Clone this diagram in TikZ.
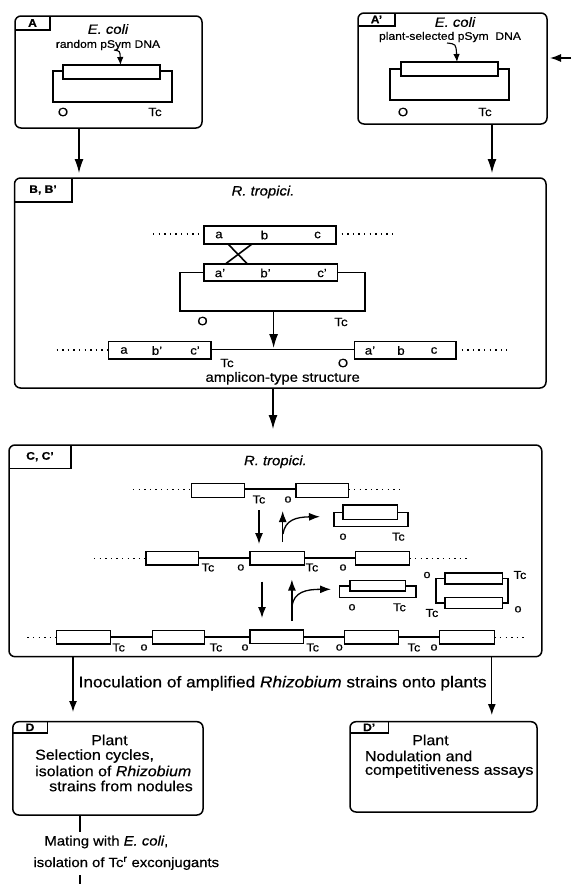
\documentclass[tikz,border=0pt]{standalone}
\usepackage{fontspec}
\setmainfont{Liberation Sans}[FakeStretch=1.1,FakeBold=0.5]
\usetikzlibrary{arrows.meta}
\newcommand{\fs}[1]{\fontsize{#1}{#1}\selectfont}
\tikzset{
  panel/.style={draw, line width=1.5pt, rounded corners=6pt},
  tabline/.style={line width=1.2pt},
  tablab/.style={font=\fs{11}\bfseries, inner sep=0pt},
  insbox/.style={draw, fill=white, line width=1.2pt},
  plasloop/.style={line width=1.4pt},
  chrom/.style={line width=1.9pt},
  dots/.style={line width=1.1pt, dash pattern=on 1.4pt off 4.2pt},
  arr/.style={line width=1.3pt, -{Latex[length=14pt,width=9pt]}},
  sarr/.style={line width=1.3pt, -{Latex[length=11pt,width=8pt]}},
  tarr/.style={line width=1.1pt, -{Latex[length=8pt,width=6.5pt]}},
  lab/.style={font=\fs{12}, inner sep=0pt},
  slab/.style={font=\fs{11.5}, inner sep=0pt},
  small/.style={font=\fs{11}, inner sep=0pt},
  big/.style={font=\fs{13.5}, inner sep=0pt},
  body/.style={font=\fs{14.5}, inner sep=0pt},
}
\begin{document}
\begin{tikzpicture}[x=1pt,y=-1pt]
\useasboundingbox (0,0) rectangle (572,884);

% ---------------- Panel A ----------------
\draw[panel] (15,16) rectangle (202,128);
\draw[tabline] (50,16) -- (50,30) -- (15,30);
\node[tablab] (tA) at (32.5,23) {A};
\node[big] (ecA) at (108,29) {\itshape E. coli};
\node[small] (rdA) at (108,45) {random pSym DNA};
\draw[plasloop] (53,71) rectangle (172,102);
\node[insbox, minimum width=97pt, minimum height=14pt, inner sep=0pt] (iA) at (111.5,72) {};
\node[lab] (oA) at (63,112) {O};
\node[lab] (tcA) at (155,112) {Tc};
\coordinate (pA) at (114,50);
\coordinate (qA) at (120.5,65);
\draw[tarr] (pA) .. controls (120,51) .. (qA);

% ---------------- Panel A' ----------------
\draw[panel] (358,13) rectangle (547,124);
\draw[tabline] (395,13) -- (395,26) -- (358,26);
\node[tablab] (tA2) at (376.5,19.5) {A'};
\node[big] (ecA2) at (455,22) {\itshape E. coli};
\node[small] (psA2) at (450,37) {plant-selected pSym\ \ DNA};
\draw[plasloop] (390,69) rectangle (509,100);
\node[insbox, minimum width=97pt, minimum height=14pt, inner sep=0pt] (iA2) at (449.5,69) {};
\node[lab] (oA2) at (403,112) {O};
\node[lab] (tcA2) at (485,112) {Tc};
\coordinate (pA2) at (447,43);
\coordinate (qA2) at (457,62);
\draw[tarr] (pA2) .. controls (456,44) .. (qA2);
\coordinate (inR1) at (571,58);
\coordinate (inR2) at (550,58);
\draw[sarr] (inR1) -- (inR2);

% arrows A, A' -> B
\coordinate (a1) at (79,128);  \coordinate (a2) at (79,173);
\coordinate (b1) at (492,124); \coordinate (b2) at (492,173);
\draw[arr] (a1) -- (a2);
\draw[arr] (b1) -- (b2);

% ---------------- Panel B ----------------
\draw[panel] (14.5,178) rectangle (546,388);
\draw[tabline] (72,178) -- (72,202) -- (14.5,202);
\node[tablab] (tB) at (43,190) {B, B'};
\node[big] (rtB) at (263,192) {\itshape R. tropici.};
% chromosome
\draw[dots] (153,234) -- (204,234);
\draw[dots] (336,234) -- (394,234);
\node[insbox, minimum width=132pt, minimum height=18pt, inner sep=0pt] (chB) at (270,235) {};
\node[lab] (la) at (219,235) {a};
\node[lab] (lb) at (264.5,235) {b};
\node[lab] (lc) at (317.5,235) {c};
% crossover
\draw[line width=1.6pt] (228,244) -- (247,263.5);
\draw[line width=1.6pt] (252,244) -- (226,263.5);
% plasmid
\draw[plasloop] (180,272.5) rectangle (365,311);
\node[insbox, minimum width=133.5pt, minimum height=17pt, inner sep=0pt] (iB) at (270.75,272.5) {};
\node[lab] (la2) at (220,273) {a'};
\node[lab] (lb2) at (265.5,273) {b'};
\node[lab] (lc2) at (322,273) {c'};
\node[lab] (oB) at (202.5,321) {O};
\node[lab] (tcB) at (341,322) {Tc};
\coordinate (c1) at (273.6,312); \coordinate (c2) at (273.6,348);
\draw[arr] (c1) -- (c2);
% amplicon
\draw[dots] (56.5,350) -- (108.7,350);
\draw[dots] (456,350) -- (507,350);
\draw[chrom] (210.9,349.5) -- (354.6,349.5);
\node[insbox, minimum width=102.2pt, minimum height=17.3pt, inner sep=0pt] (amL) at (159.8,350.3) {};
\node[insbox, minimum width=101.4pt, minimum height=17.3pt, inner sep=0pt] (amR) at (405.3,350.3) {};
\node[lab] (m1) at (124,350.5) {a};
\node[lab] (m2) at (157,350.5) {b'};
\node[lab] (m3) at (195,350.5) {c'};
\node[lab] (m4) at (370,350.5) {a'};
\node[lab] (m5) at (401,350.5) {b};
\node[lab] (m6) at (434,350.5) {c};
\node[lab] (tcB2) at (227,363) {Tc};
\node[lab] (oB2) at (343,363) {O};
\node[big] (amp) at (282.7,378.3) {amplicon-type structure};

% arrow B -> C
\coordinate (d1) at (273,388); \coordinate (d2) at (273,429);
\draw[arr] (d1) -- (d2);

% ---------------- Panel C ----------------
\draw[panel] (9,445) rectangle (541.8,656.7);
\draw[tabline] (71,445) -- (71,468.3) -- (9,468.3);
\node[tablab] (tC) at (40,456.7) {C, C'};
\node[big] (rtC) at (275.4,461.7) {\itshape R. tropici.};
% row 1
\draw[dots] (133,489.5) -- (191.5,489.5);
\draw[dots] (348.4,489.5) -- (403,489.5);
\draw[chrom] (244.4,489) -- (296,489);
\node[insbox, minimum width=52.9pt, minimum height=14pt, inner sep=0pt] (r1a) at (217.95,490.3) {};
\node[insbox, minimum width=52.4pt, minimum height=14pt, inner sep=0pt] (r1b) at (322.2,490.3) {};
\node[slab] (r1t) at (259,499.5) {Tc};
\node[slab] (r1o) at (288,499.5) {o};
% arrows row1 -> row2
\coordinate (e1) at (259,510); \coordinate (e2) at (259,544);
\draw[sarr] (e1) -- (e2);
\coordinate (f1) at (282.7,542); \coordinate (f2) at (282.7,511);
\draw[sarr] (f1) -- (f2);
\coordinate (g1) at (283,534); \coordinate (g2) at (320,516.7);
\draw[sarr] (g1) .. controls (285,520) and (296,517) .. (g2);
% small plasmid 1
\draw[plasloop] (333.8,512.5) rectangle (408,526.7);
\node[insbox, minimum width=54.7pt, minimum height=14.3pt, inner sep=0pt] (sp1) at (370.35,512.15) {};
\node[slab] (sp1o) at (343,536.7) {o};
\node[slab] (sp1t) at (398.4,536.7) {Tc};
% row 2
\draw[dots] (94,558.5) -- (146,558.5);
\draw[dots] (409.3,558.5) -- (468.8,558.5);
\draw[chrom] (198.8,558) -- (250,558);
\draw[chrom] (304.6,558) -- (355.7,558);
\node[insbox, minimum width=52.8pt, minimum height=13.3pt, inner sep=0pt] (r2a) at (172.4,558.4) {};
\node[insbox, minimum width=54.6pt, minimum height=13.3pt, inner sep=0pt] (r2b) at (277.3,558.4) {};
\node[insbox, minimum width=53.6pt, minimum height=13.3pt, inner sep=0pt] (r2c) at (382.5,558.4) {};
\node[slab] (r2t1) at (208,567.5) {Tc};
\node[slab] (r2o1) at (240.8,567.5) {o};
\node[slab] (r2t2) at (312,567.5) {Tc};
\node[slab] (r2o2) at (343,567.5) {o};
% arrows row2 -> row3
\coordinate (h1) at (262,581.7); \coordinate (h2) at (262,618);
\draw[sarr] (h1) -- (h2);
\coordinate (k1) at (291.9,621); \coordinate (k2) at (291.9,579.5);
\draw[sarr] (k1) -- (k2);
\coordinate (m1a) at (292,606); \coordinate (m2a) at (331,589.3);
\draw[sarr] (m1a) .. controls (294,592) and (306,589.3) .. (m2a);
% small plasmid 2
\draw[plasloop] (339.3,585.8) rectangle (416,597.3);
\node[insbox, minimum width=55.7pt, minimum height=10.5pt, inner sep=0pt] (sp2) at (377.85,585.8) {};
\node[slab] (sp2o) at (352,607.3) {o};
\node[slab] (sp2t) at (399.5,607.3) {Tc};
% double plasmid
\draw[plasloop] (436,578.5) rectangle (508,603);
\node[insbox, minimum width=57.7pt, minimum height=11pt, inner sep=0pt] (dp1) at (473.85,578.5) {};
\node[insbox, minimum width=57.7pt, minimum height=10.5pt, inner sep=0pt] (dp2) at (473.85,603) {};
\node[slab] (dpo1) at (427,575) {o};
\node[slab] (dpt1) at (520,575) {Tc};
\node[slab] (dpt2) at (432,613) {Tc};
\node[slab] (dpo2) at (518,609.3) {o};
% row 3
\draw[dots] (27.4,637.5) -- (56.5,637.5);
\draw[dots] (494.3,637.5) -- (525.4,637.5);
\draw[chrom] (110.5,637) -- (152.5,637);
\draw[chrom] (204.3,637) -- (250,637);
\draw[chrom] (303.5,637) -- (344.8,637);
\draw[chrom] (398.4,637) -- (439.6,637);
\node[insbox, minimum width=54pt, minimum height=13.3pt, inner sep=0pt] (r3a) at (83.5,637.4) {};
\node[insbox, minimum width=51.8pt, minimum height=13.3pt, inner sep=0pt] (r3b) at (178.4,637.4) {};
\node[insbox, minimum width=53.5pt, minimum height=13.3pt, inner sep=0pt] (r3c) at (276.75,636.6) {};
\node[insbox, minimum width=53.6pt, minimum height=13.3pt, inner sep=0pt] (r3d) at (371.6,637.4) {};
\node[insbox, minimum width=54.7pt, minimum height=13.3pt, inner sep=0pt] (r3e) at (466.95,637.4) {};
\node[slab] (r3t1) at (118.6,647.5) {Tc};
\node[slab] (r3o1) at (144,647.5) {o};
\node[slab] (r3t2) at (216,647.5) {Tc};
\node[slab] (r3o2) at (245,647.5) {o};
\node[slab] (r3t3) at (312.7,647.5) {Tc};
\node[slab] (r3o3) at (339.3,647.5) {o};
\node[slab] (r3t4) at (414,647.5) {Tc};
\node[slab] (r3o4) at (434,647.5) {o};

% ---------------- inoculation ----------------
\coordinate (n1) at (73,656.7); \coordinate (n2) at (73,712);
\coordinate (p1) at (491.8,656.7); \coordinate (p2) at (491.8,715);
\draw[sarr] (n1) -- (n2);
\draw[sarr] (p1) -- (p2);
\node[font=\fs{15.7}, inner sep=0pt, anchor=west] (inoc) at (78.4,683.3)
  {Inoculation of amplified \textit{Rhizobium} strains onto plants};

% ---------------- Panel D ----------------
\draw[panel] (12.8,721.7) rectangle (203,815);
\draw[tabline] (47.4,721.7) -- (47.4,733) -- (12.8,733);
\node[tablab] (tD) at (30,727.3) {D};
\node[body] (plD) at (109.5,740) {Plant};
\node[body, anchor=west] (dl1) at (35,756) {Selection cycles,};
\node[body, anchor=west] (dl2) at (35,771) {isolation of \textit{Rhizobium}};
\node[body, anchor=west] (dl3) at (49,786) {strains from nodules};

% ---------------- Panel D' ----------------
\draw[panel] (350,721.7) rectangle (537,812);
\draw[tabline] (388.5,721.7) -- (388.5,733) -- (350,733);
\node[tablab] (tD2) at (369.2,727.3) {D'};
\node[body] (plD2) at (430.5,740) {Plant};
\node[body, anchor=west] (dd1) at (364.8,756) {Nodulation and};
\node[body, anchor=west] (dd2) at (364.8,771) {competitiveness assays};

% ---------------- mating ----------------
\coordinate (s1) at (80,815); \coordinate (s2) at (80,832);
\draw[line width=1.3pt] (s1) -- (s2);
\node[big, anchor=west] (mt1) at (44.3,842) {Mating with \textit{E. coli},};
\node[big, anchor=west] (mt2) at (33.3,863.3) {isolation of Tc\textsuperscript{r} exconjugants};
\coordinate (s3) at (80,875); \coordinate (s4) at (80,884);
\draw[line width=1.3pt] (s3) -- (s4);
\end{tikzpicture}
\end{document}
